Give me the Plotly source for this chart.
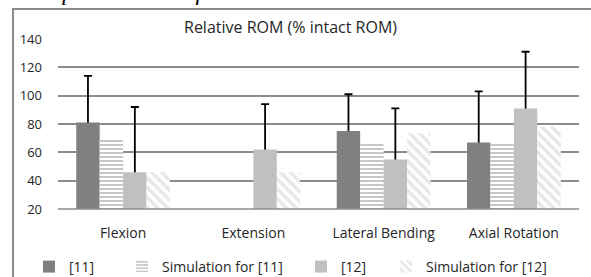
import plotly.graph_objects as go

categories = ["Flexion", "Extension", "Lateral Bending", "Axial Rotation"]
ref11 = [81, None, 75, 67]
ref11_err = [33, None, 26, 36]
sim11 = [69, None, 66.5, 66]
ref12 = [46, 62, 55, 91]
ref12_err = [46, 32, 36, 40]
sim12 = [46, 46, 73.5, 78]
names = ["[11]", "Simulation for [11]", "[12]", "Simulation for [12]"]
yticks = [20, 40, 60, 80, 100, 120, 140]

W, H = 591, 277
L, R, T, B = 58, 12, 39, 68
PW, PH = W - L - R, H - T - B

def px(x):
    return (x - L) / PW

def py(y):
    return (H - B - y) / PH

FONT = "Open Sans"
fig = go.Figure()

err_style = dict(type="data", symmetric=False, color="black", thickness=1.8, width=4)

def err_carrier(vals, errs, group):
    # transparent copy that carries the whisker; the coloured bar drawn after it
    # hides the part of the whisker that lies inside the bar
    return go.Bar(x=categories, y=vals, offsetgroup=group, showlegend=False,
                  hoverinfo="skip", marker=dict(color="rgba(0,0,0,0)", line=dict(width=0)),
                  error_y=dict(array=errs, arrayminus=vals, **err_style))

fig.add_trace(err_carrier(ref11, ref11_err, "a"))
fig.add_trace(go.Bar(
    x=categories, y=ref11, name=names[0], legend="legend", offsetgroup="a",
    marker=dict(color="#808080", line=dict(width=0))))
fig.add_trace(go.Bar(
    x=categories, y=sim11, name=names[1], legend="legend2", offsetgroup="b",
    marker=dict(color="white", line=dict(width=0),
                pattern=dict(shape="-", fgcolor="#8f8f8f", bgcolor="white",
                             size=4, solidity=0.5, fillmode="overlay"))))
fig.add_trace(err_carrier(ref12, ref12_err, "c"))
fig.add_trace(go.Bar(
    x=categories, y=ref12, name=names[2], legend="legend3", offsetgroup="c",
    marker=dict(color="#c0c0c0", line=dict(width=0))))
fig.add_trace(go.Bar(
    x=categories, y=sim12, name=names[3], legend="legend4", offsetgroup="d",
    marker=dict(color="white", line=dict(width=0),
                pattern=dict(shape="\\", fgcolor="#d0d0d0", bgcolor="white",
                             size=7, solidity=0.5, fillmode="overlay"))))

leg_common = dict(orientation="h", yanchor="middle", xanchor="left",
                  font=dict(family=FONT, size=14, color="#262626"),
                  bgcolor="rgba(0,0,0,0)", itemwidth=30)
fig.update_layout(
    width=W, height=H,
    margin=dict(l=L, r=R, t=T, b=B, autoexpand=False),
    paper_bgcolor="white", plot_bgcolor="white",
    barmode="group", bargap=0.28, bargroupgap=0,
    font=dict(family=FONT, size=13, color="#262626"),
    legend=dict(x=px(29), y=py(267), **leg_common),
    legend2=dict(x=px(122), y=py(267), **leg_common),
    legend3=dict(x=px(301), y=py(267), **leg_common),
    legend4=dict(x=px(386), y=py(267), **leg_common),
    xaxis=dict(showgrid=False, showline=False, zeroline=False,
               ticks="", ticklabelstandoff=14,
               tickfont=dict(family=FONT, size=14, color="#262626")),
    yaxis=dict(range=[20, 140], tickvals=yticks, showgrid=True,
               gridcolor="#8c8c8c", gridwidth=1.5, zeroline=False,
               showline=False, ticks="", ticklabelstandoff=15,
               tickfont=dict(family=FONT, size=13, color="#262626")),
    shapes=[
        dict(type="rect", xref="paper", yref="paper",
             x0=px(13), x1=px(620), y0=py(9), y1=py(300),
             line=dict(color="#8c8c8c", width=2), fillcolor="rgba(0,0,0,0)",
             layer="below"),
        dict(type="line", xref="paper", yref="paper",
             x0=0, x1=1, y0=0, y1=0, line=dict(color="#8c8c8c", width=1.5)),
    ],
    annotations=[
        dict(text="Relative ROM (% intact ROM)", xref="paper", yref="paper",
             x=px(290), y=py(27), xanchor="center", yanchor="middle",
             showarrow=False, font=dict(family=FONT, size=16, color="#262626")),
        dict(text="<i>Torque 0 Nm and follower load 300 N</i>", xref="paper", yref="paper",
             x=px(22), y=py(7.5), xanchor="left", yanchor="bottom",
             showarrow=False, font=dict(family="Liberation Serif", size=24, color="#000000")),
    ],
)

fig.write_html("out.html", config={"displayModeBar": False},
               post_script="document.body.style.margin='0';")
